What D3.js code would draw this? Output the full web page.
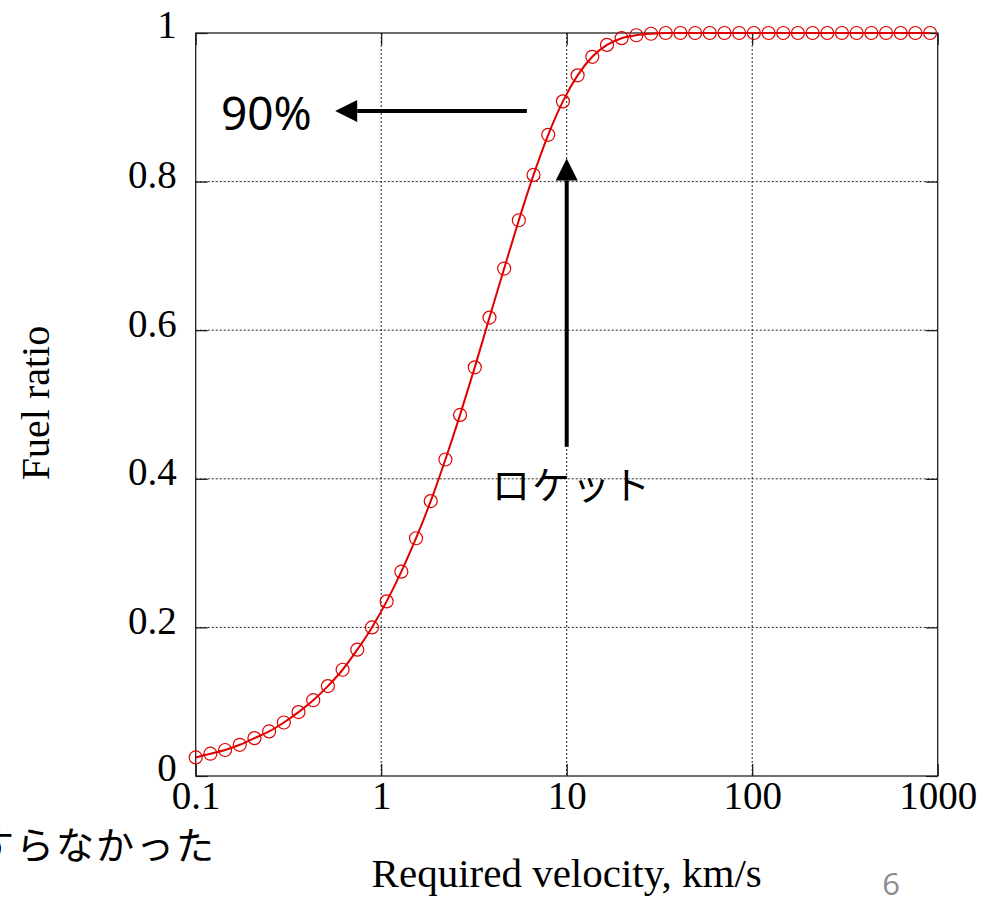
<!DOCTYPE html>
<html>
<head>
<meta charset="utf-8">
<script src="https://cdn.jsdelivr.net/npm/d3@7"></script>
<style>
    body { margin: 0; background: #fff; overflow: hidden; }
</style>
</head>
<body>
<script>
"use strict";
// sample points (km/s) and fuel ratio at each
const velocity = [0.1, 0.12, 0.144, 0.1728, 0.2074, 0.2488, 0.2986, 0.3583, 0.43, 0.516,
    0.6192, 0.743, 0.8916, 1.07, 1.284, 1.541, 1.849, 2.219, 2.662, 3.195,
    3.834, 4.601, 5.521, 6.625, 7.95, 9.54, 11.45, 13.74, 16.48, 19.78,
    23.74, 28.49, 34.18, 41.02, 49.22, 59.07, 70.88, 85.06, 102.1, 122.5,
    147, 176.4, 211.6, 254, 304.8, 365.7, 438.9, 526.6, 632, 758.4, 910];
const fuelRatio = [0.025, 0.030, 0.035, 0.042, 0.051, 0.060, 0.072, 0.086, 0.102, 0.121,
    0.143, 0.170, 0.200, 0.235, 0.275, 0.320, 0.370, 0.426, 0.486, 0.550,
    0.617, 0.683, 0.748, 0.809, 0.863, 0.908, 0.943, 0.968, 0.984, 0.993,
    0.997, 0.999, 1, 1, 1, 1, 1, 1, 1, 1,
    1, 1, 1, 1, 1, 1, 1, 1, 1, 1, 1];
const xTicks = [0.1, 1, 10, 100, 1000];
const xTickLabels = ["0.1", "1", "10", "100", "1000"];
const yTicks = [0, 0.2, 0.4, 0.6, 0.8, 1];
const yTickLabels = ["0", "0.2", "0.4", "0.6", "0.8", "1"];

(function(){
    const measurements = {
        width: 1002,
        height: 905,
        left: 195.7,
        right: 937.7,
        top: 33,
        bottom: 776
    }
    const red = "#e00000"
    const serif = "'Liberation Serif', 'DejaVu Serif', serif"
    const jp = "'Noto Sans CJK JP', 'Noto Sans', sans-serif"

    const svg = d3.select('body').append('svg')
        .attr('width', measurements.width)
        .attr('height', measurements.height)

    const data = velocity.map((v, i) => ({ v: v, f: fuelRatio[i] }))

    const scaleX = d3.scaleLog()
        .domain([0.1, 1000])
        .range([measurements.left, measurements.right])
    const scaleY = d3.scaleLinear()
        .domain([0, 1])
        .range([measurements.bottom, measurements.top])

    // dotted grid
    const grid = svg.append('g')
        .attr('stroke', '#222')
        .attr('stroke-width', 1)
        .attr('stroke-dasharray', '2,2')
    grid.selectAll('.gx').data(xTicks.slice(1, -1)).enter().append('line')
        .attr('x1', d => scaleX(d)).attr('x2', d => scaleX(d))
        .attr('y1', measurements.top).attr('y2', measurements.bottom)
    grid.selectAll('.gy').data(yTicks.slice(1, -1)).enter().append('line')
        .attr('x1', measurements.left).attr('x2', measurements.right)
        .attr('y1', d => scaleY(d)).attr('y2', d => scaleY(d))

    // axes with inward ticks
    const xAxis = d3.axisBottom(scaleX).tickValues(xTicks)
        .tickSize(-12).tickPadding(0)
        .tickFormat((d, i) => xTickLabels[i])
    const xTop = d3.axisTop(scaleX).tickValues(xTicks).tickSize(-12).tickFormat('')
    const yAxis = d3.axisLeft(scaleY).tickValues(yTicks)
        .tickSize(-12).tickPadding(19)
        .tickFormat((d, i) => yTickLabels[i])
    const yRight = d3.axisRight(scaleY).tickValues(yTicks).tickSize(-12).tickFormat('')

    const gx = svg.append('g')
        .attr('transform', `translate(0,${measurements.bottom})`)
        .call(xAxis)
    gx.selectAll('text')
        .attr('y', 33).attr('dy', 0)
        .attr('font-family', serif).attr('font-size', 39).attr('fill', '#000')
    svg.append('g').attr('transform', `translate(0,${measurements.top})`).call(xTop)
    const gy = svg.append('g')
        .attr('transform', `translate(${measurements.left},0)`)
        .call(yAxis)
    gy.selectAll('text')
        .attr('dy', d => (d === 0 || d === 1) ? 4 : 6)
        .attr('font-family', serif).attr('font-size', 39).attr('fill', '#000')
    svg.append('g').attr('transform', `translate(${measurements.right},0)`).call(yRight)
    svg.selectAll('.domain').remove()
    svg.selectAll('.tick line').attr('stroke', '#111').attr('stroke-width', 1.2)

    // frame
    svg.append('rect')
        .attr('x', measurements.left).attr('y', measurements.top)
        .attr('width', measurements.right - measurements.left)
        .attr('height', measurements.bottom - measurements.top)
        .attr('fill', 'none').attr('stroke', '#222').attr('stroke-width', 1.3)

    // curve and markers
    const line = d3.line()
        .x(d => scaleX(d.v))
        .y(d => scaleY(d.f))
        .curve(d3.curveMonotoneX)
    svg.append('path')
        .datum(data)
        .attr('d', line)
        .attr('fill', 'none')
        .attr('stroke', red)
        .attr('stroke-width', 2)
    svg.selectAll('.marker')
        .data(data)
        .enter()
        .append('circle')
            .attr('cx', d => scaleX(d.v))
            .attr('cy', d => scaleY(d.f))
            .attr('r', 6.5)
            .attr('fill', 'none')
            .attr('stroke', red)
            .attr('stroke-width', 1.2)

    // arrows
    function arrow(x1, y1, x2, y2) {
        const ang = Math.atan2(y2 - y1, x2 - x1)
        const len = 22, half = 11
        const bx = x2 - len * Math.cos(ang), by = y2 - len * Math.sin(ang)
        svg.append('line')
            .attr('x1', x1).attr('y1', y1).attr('x2', bx).attr('y2', by)
            .attr('stroke', '#000').attr('stroke-width', 4)
        const px = -Math.sin(ang) * half, py = Math.cos(ang) * half
        svg.append('path')
            .attr('d', `M${x2},${y2}L${bx + px},${by + py}L${bx - px},${by - py}Z`)
            .attr('fill', '#000')
    }
    arrow(scaleX(6.1), scaleY(0.895), scaleX(0.565), scaleY(0.895))
    arrow(scaleX(10), scaleY(0.443), scaleX(10), scaleY(0.831))

    // annotations
    svg.append('text')
        .attr('x', 221).attr('y', 130)
        .attr('font-family', "'Noto Sans', sans-serif").attr('font-size', 46)
        .text('90%')
    svg.append('text')
        .attr('x', 492).attr('y', 499)
        .attr('font-family', jp).attr('font-size', 38)
        .attr('letter-spacing', 2)
        .text('ロケット')
    // slide text running off the left edge, as in the original
    svg.append('text')
        .attr('x', -24).attr('y', 859)
        .attr('font-family', jp).attr('font-size', 38)
        .attr('letter-spacing', 2)
        .text('すらなかった')

    // axis titles
    svg.append('text')
        .attr('transform', 'translate(49,403) rotate(-90)')
        .attr('text-anchor', 'middle')
        .attr('font-family', serif).attr('font-size', 40)
        .text('Fuel ratio')
    svg.append('text')
        .attr('x', (measurements.left + measurements.right) / 2).attr('y', 887)
        .attr('text-anchor', 'middle')
        .attr('font-family', serif).attr('font-size', 41)
        .text('Required velocity, km/s')

    // slide page number
    svg.append('text')
        .attr('x', 891).attr('y', 895)
        .attr('text-anchor', 'middle')
        .attr('font-family', "'Open Sans', sans-serif").attr('font-size', 31)
        .attr('fill', '#8c8c8c')
        .text('6')
})()
</script>
</body>
</html>
